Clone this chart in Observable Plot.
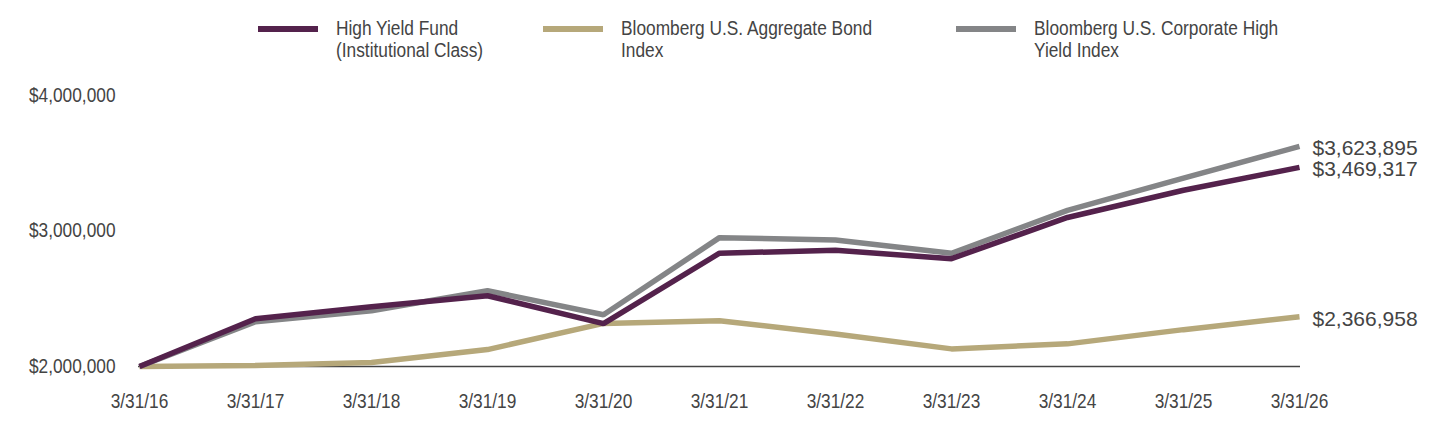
<!DOCTYPE html>
<html>
<head>
<meta charset="utf-8">
<script src="https://cdn.jsdelivr.net/npm/d3@7"></script>
<script src="https://cdn.jsdelivr.net/npm/@observablehq/plot@0.6"></script>
<style>
  html, body { margin: 0; padding: 0; background: #fff; }
  #wrap { width: 1440px; height: 432px; position: relative; overflow: hidden; }
  #legend { position: relative; width: 1440px; height: 72px; font-family: "Liberation Sans", Arial, sans-serif; font-size: 20px; color: #444; }
  .item { position: absolute; top: 17px; }
  .sw { position: absolute; top: 9px; width: 60px; height: 6px; }
  .lab { position: absolute; left: 78px; top: 0; line-height: 22px; white-space: nowrap; transform: scaleX(0.865); transform-origin: left center; }
  #chart svg { display: block; }
</style>
</head>
<body>
<div id="wrap">
  <div id="legend"></div>
  <div id="chart"></div>
</div>
<script>
// Fiscal year-end dates on the x axis
const dates = ["3/31/16", "3/31/17", "3/31/18", "3/31/19", "3/31/20", "3/31/21", "3/31/22", "3/31/23", "3/31/24", "3/31/25", "3/31/26"];

// Growth of a $2,000,000 investment
const fund = [2000000, 2353000, 2441000, 2522000, 2316000, 2836000, 2858000, 2796000, 3100000, 3301000, 3469317];
const aggregate = [2000000, 2008000, 2030000, 2125000, 2318000, 2338000, 2240000, 2130000, 2167000, 2272000, 2366958];
const corporateHY = [2000000, 2331000, 2412000, 2559000, 2382000, 2951000, 2934000, 2836000, 3152000, 3390000, 3623895];

const yTicks = [2000000, 3000000, 4000000];

const seriesNames = ["High Yield Fund\n(Institutional Class)", "Bloomberg U.S. Aggregate Bond\nIndex", "Bloomberg U.S. Corporate High\nYield Index"];
const seriesColors = ["#54224c", "#b6a87a", "#848587"];

// Legend positions along the top row
const legendLeft = [258, 543, 956];
const legend = document.getElementById("legend");
seriesNames.forEach((name, i) => {
  const item = document.createElement("div");
  item.className = "item";
  item.style.left = legendLeft[i] + "px";
  const sw = document.createElement("div");
  sw.className = "sw";
  sw.style.background = seriesColors[i];
  const lab = document.createElement("div");
  lab.className = "lab";
  lab.innerHTML = name.split("\n").join("<br>");
  item.appendChild(sw);
  item.appendChild(lab);
  legend.appendChild(item);
});

// Long-format rows for the line marks (aggregate drawn first, fund on top)
const series = [
  {key: "agg", values: aggregate, color: seriesColors[1]},
  {key: "hy", values: corporateHY, color: seriesColors[2]},
  {key: "fund", values: fund, color: seriesColors[0]}
];
const rows = series.flatMap(s => s.values.map((v, i) => ({date: dates[i], value: v, key: s.key, color: s.color})));
const lastRows = rows.filter(d => d.date === dates[dates.length - 1]);

const fmt = d3.format("$,.0f");

const chart = Plot.plot({
  width: 1440,
  height: 360,
  marginTop: 23,
  marginBottom: 66,
  marginLeft: 138,
  marginRight: 140,
  style: {fontFamily: "'Liberation Sans', Arial, sans-serif", fontSize: "20px", color: "#444"},
  x: {type: "point", domain: dates, padding: 0, label: null},
  y: {domain: [2000000, 4000000], ticks: yTicks, label: null},
  marks: [
    Plot.axisX({tickSize: 0, tickPadding: 27, fill: "#444", label: null}),
    Plot.axisY({ticks: yTicks, tickSize: 0, tickPadding: 23, tickFormat: fmt, fill: "#444", label: null}),
    Plot.ruleY([2000000], {stroke: "#444", strokeWidth: 1.6}),
    ...series.map(s => Plot.line(rows.filter(d => d.key === s.key), {
      x: "date", y: "value", stroke: s.color, strokeWidth: 5.5, strokeLinejoin: "miter", strokeLinecap: "butt"
    })),
    Plot.text(lastRows, {
      x: "date", y: "value", text: d => fmt(d.value), textAnchor: "start", dx: 13, dy: 2,
      fill: "#444", fontSize: 21, fontFamily: "'Liberation Sans', Arial, sans-serif"
    })
  ]
});

// Condensed tick labels: squeeze each label horizontally about its anchor point
chart.querySelectorAll('g[aria-label="x-axis tick label"] text, g[aria-label="y-axis tick label"] text').forEach(t => {
  const tr = t.getAttribute("transform") || "";
  t.setAttribute("transform", (tr + " scale(0.865,1)").trim());
});

document.getElementById("chart").appendChild(chart);
</script>
</body>
</html>
